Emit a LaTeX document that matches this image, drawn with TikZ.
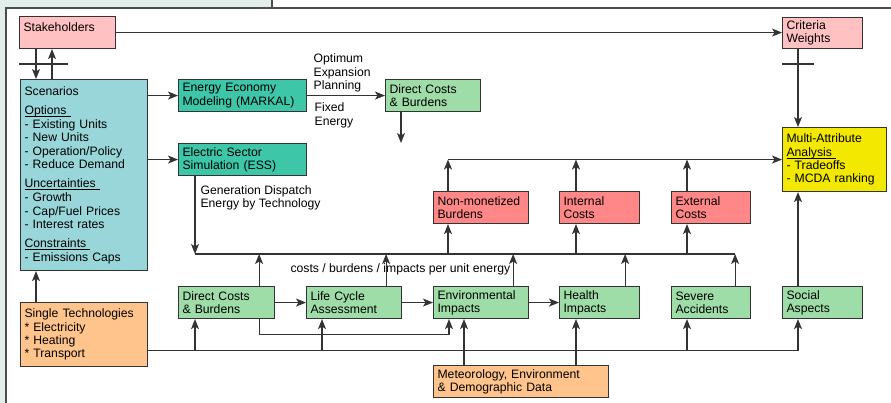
\documentclass[tikz,border=0pt]{standalone}
\usepackage{fontspec}
\setmainfont{Liberation Sans}
\usetikzlibrary{arrows.meta,calc,positioning}
\definecolor{rosa}{HTML}{FFC1C1}
\definecolor{turquesa}{HTML}{99D6DA}
\definecolor{modelo}{HTML}{3DC6A8}
\definecolor{verde}{HTML}{9EDCA8}
\definecolor{salmon}{HTML}{FF8787}
\definecolor{amarillo}{HTML}{F2E800}
\definecolor{naranja}{HTML}{FFC48C}
\definecolor{menta}{HTML}{E2EEEA}
\definecolor{linea}{HTML}{333333}
% subrayado propio
\newcommand{\raya}[1]{\leavevmode\setbox0\hbox{#1}\rlap{\rule[-2.6pt]{\wd0}{0.8pt}}\box0}
\tikzset{
	every node/.style={
		font=\fontsize{12.2pt}{13.4pt}\selectfont
	},
	block/.style={
		shape=rectangle,
		anchor=north west,
		draw=linea,
		line width=1.1pt,
		inner xsep=4pt,
		inner ysep=2pt,
		align=left,
	},
	note/.style={
		align=left,
		inner sep=3pt,
	},
	myarrow/.style={->},
	marco/.style={draw=black!70, line width=1.4pt},
}

\begin{document}
\begin{tikzpicture}[x=1pt,y=-1pt,>={Stealth[length=10pt,width=8pt,inset=2.5pt]},line width=1.1pt,draw=linea]
	\useasboundingbox (0,0) rectangle (891,403);
	
	% fondo
	\fill[white] (0,0) rectangle (891,403);
	\fill[menta] (0,0) rectangle (272,8);
	\fill[menta] (0,0) rectangle (6,403);
	\draw[marco] (891,8) -| (6,403);
	\draw[marco] (272,0) -- (272,8);
	
	% Cajas
	\node[block, fill=rosa, text width=88pt, minimum height=32pt, text height=8.7pt, text depth=10.7pt] (stake) at (19,16) {Stakeholders};
	\node[block, fill=rosa, text width=72pt, minimum height=31pt] (crit) at (782,17) {Criteria\\Weights};
	\node[block, fill=turquesa, text width=119pt, minimum height=191pt] (scen) at (20,79)
	{Scenarios\\[6pt]\raya{Options\ }\\[0.6pt]- Existing Units\\- New Units\\- Operation/Policy\\- Reduce Demand\\[5.5pt]
		\raya{Uncertainties\ }\\[0.6pt]- Growth\\- Cap/Fuel Prices\\- Interest rates\\[5.5pt]
		\raya{Constraints\ }\\[0.6pt]- Emissions Caps};
	\node[block, fill=modelo, text width=120pt, minimum height=32pt] (markal) at (178,79) {Energy Economy\\Modeling (MARKAL)};
	\node[block, fill=modelo, text width=120pt, minimum height=32pt] (ess) at (178,143) {Electric Sector\\Simulation (ESS)};
	\node[block, fill=verde, text width=87pt, minimum height=32pt] (dcbtop) at (385,79) {Direct Costs\\\& Burdens};
	\node[block, fill=amarillo, text width=96pt, minimum height=64pt] (mcda) at (782,127) {Multi-Attribute\\\raya{Analysis\ }\\- Tradeoffs\\- MCDA ranking};
	
	\node[block, fill=salmon, text width=87pt, minimum height=32pt] (nonmon) at (433,191) {Non-monetized\\Burdens};
	\node[block, fill=salmon, text width=72pt, minimum height=32pt] (intern) at (559,191) {Internal\\Costs};
	\node[block, fill=salmon, text width=71pt, minimum height=32pt] (extern) at (671,191) {External\\Costs};
	
	\node[block, fill=verde, text width=88pt, minimum height=32pt] (dcb) at (178,286) {Direct Costs\\\& Burdens};
	\node[block, fill=verde, text width=87pt, minimum height=32pt] (lca) at (306,286) {Life Cycle\\Assessment};
	\node[block, fill=verde, text width=87pt, minimum height=32pt] (envi) at (433,286) {Environmental\\Impacts};
	\node[block, fill=verde, text width=72pt, minimum height=32pt] (health) at (559,286) {Health\\Impacts};
	\node[block, fill=verde, text width=71pt, minimum height=32pt] (severe) at (671,286) {Severe\\Accidents};
	\node[block, fill=verde, text width=72pt, minimum height=32pt] (social) at (782,286) {Social\\Aspects};
	
	\node[block, fill=naranja, text width=119pt, minimum height=64pt] (single) at (20,302) {Single Technologies\\{}* Electricity\\{}* Heating\\{}* Transport};
	\node[block, fill=naranja, text width=167pt, minimum height=32pt] (meteo) at (433,365) {Meteorology, Environment\\\& Demographic Data};
	
	% Etiquetas
	\node[note, anchor=south west] (optexp) at ([xshift=3pt]markal.east) {Optimum\\Expansion\\Planning};
	\node[note, anchor=north west] (fixen) at ([xshift=4pt,yshift=-4pt]markal.east) {Fixed\\Energy};
	\node[note, anchor=north west] (gendis) at (197,182) {Generation Dispatch\\Energy by Technology};
	\node[note, anchor=west] (cbi) at (287,269.5) {costs / burdens / impacts per unit energy};
	
	% Puntos de apoyo
	\coordinate (s1) at ([xshift=17pt]stake.south west);
	\coordinate (s2) at ([xshift=33pt]stake.south west);
	\coordinate (c1) at ([xshift=16pt]crit.south west);
	\coordinate (t1) at ([xshift=16pt]single.north west);
	\coordinate (d1) at (401,143);
	\coordinate (busL) at (195,254);
	\coordinate (u1) at ([xshift=-16pt]dcb.north east);
	\coordinate (u2) at ([xshift=-16pt]lca.north east);
	\coordinate (u3) at ([xshift=-16pt]envi.north east);
	\coordinate (u4) at ([xshift=-15pt]health.north east);
	\coordinate (u5) at ([xshift=-16pt]severe.north east);
	\coordinate (v1) at ([xshift=15pt]nonmon.south west);
	\coordinate (v2) at ([xshift=17pt]intern.south west);
	\coordinate (v3) at ([xshift=16pt]extern.south west);
	\coordinate (r0) at ([yshift=-16pt]single.east);
	\coordinate (r1) at ([xshift=17pt]dcb.south west);
	\coordinate (r2) at ([xshift=16pt]lca.south west);
	\coordinate (r3) at ([xshift=16pt]severe.south west);
	\coordinate (r4) at ([xshift=16pt]social.south west);
	\coordinate (m1) at ([xshift=31pt]meteo.north west);
	\coordinate (m2) at ([xshift=143pt]meteo.north west);
	
	% Cortes
	\coordinate (cutA) at (19,64);
	\coordinate (cutB) at (68,64);
	\coordinate (cutC) at (782,64);
	\coordinate (cutD) at (814,64);
	\draw (cutA) -- (cutB);
	\draw (cutC) -- (cutD);
	
	% Parte superior
	\draw[->] (s1) -- (s1 |- scen.north);
	\draw[->] (s2 |- scen.north) -- (s2);
	\draw[->] (stake.east) -- (stake.east -| crit.west);
	\draw[->] (c1) -- (c1 |- mcda.north);
	\draw[->] (scen.east |- markal.west) -- (markal.west);
	\draw[->] (scen.east |- ess.west) -- (ess.west);
	\draw[->] (markal) -- (dcbtop);
	\draw[->] (dcbtop.south -| d1) -- (d1);
	\draw[->] (t1) -- (t1 |- scen.south);
	
	% Linea de costes / impactos
	\draw[->] (ess.south -| busL) -- (busL);
	\draw (busL) -- (u5 |- busL);
	\foreach \u in {u1,u2,u3,u4,u5}
		\draw[->] (\u) -- (\u |- busL);
	\foreach \v in {v1,v2,v3}
		\draw[->] (\v |- busL) -- (\v);
	
	% Hacia el analisis multicriterio
	\draw[->] (nonmon.north -| v1) -- (v1 |- mcda.west);
	\draw[->] (v1 |- mcda.west) -- (mcda.west);
	\draw[->] (intern.north -| v2) -- (v2 |- mcda.west);
	\draw[->] (extern.north -| v3) -- (v3 |- mcda.west);
	\draw[->] (social.north -| r4) -- (r4 |- mcda.south);
	
	% Cadena inferior
	\draw[->] (dcb) -- (lca);
	\draw[->] (lca) -- (envi);
	\draw[->] (envi) -- (health);
	\draw[->] (u1 |- dcb.south) -- ++(0,15) -| ([xshift=16pt]envi.south west);
	\draw (r0) -- (r4 |- r0);
	\foreach \r in {r1,r2,r3,r4}
		\draw[->] (\r |- r0) -- (\r);
	\draw[->] (m1) -- (m1 |- envi.south);
	\draw[->] (m2) -- (m2 |- health.south);
	
\end{tikzpicture}
\end{document}
